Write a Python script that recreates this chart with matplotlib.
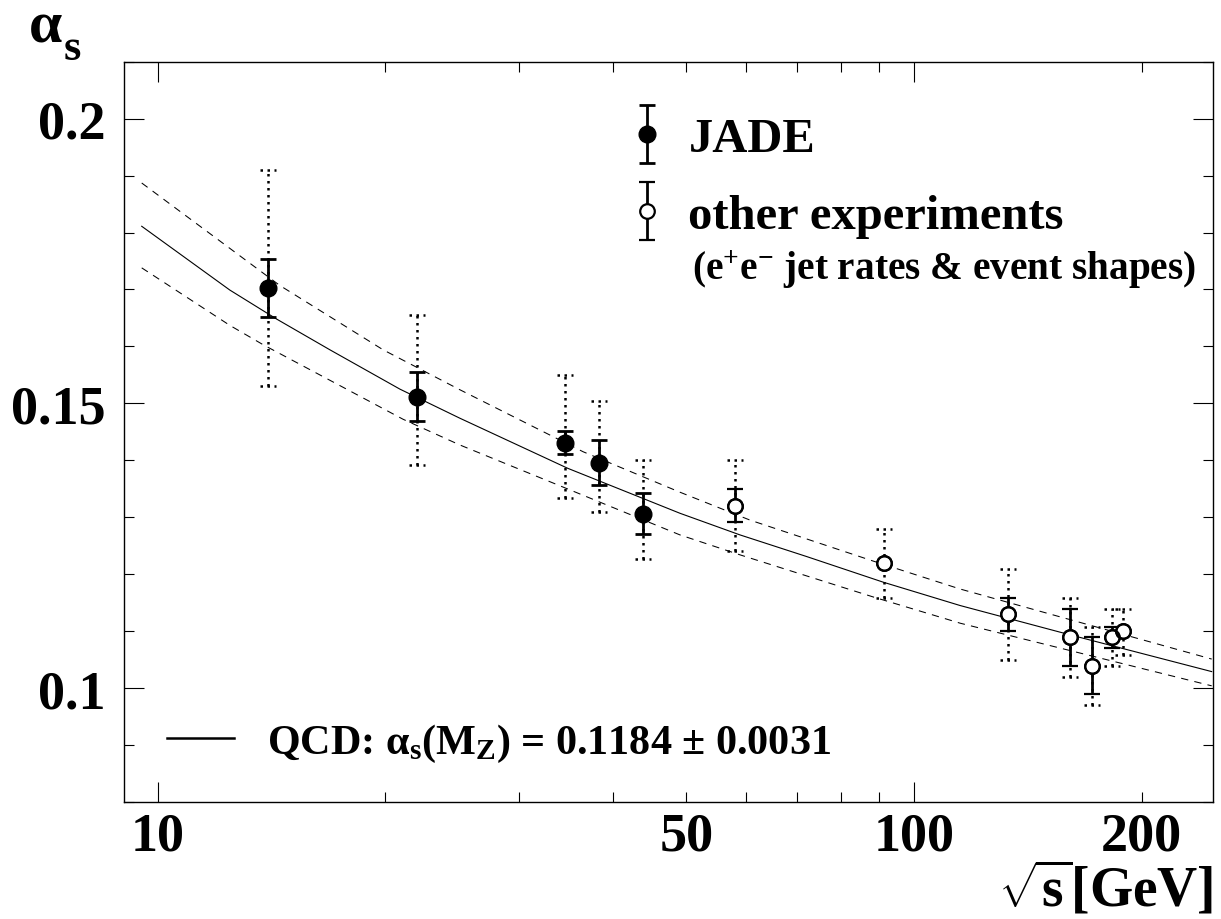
import matplotlib
matplotlib.use("Agg")

import matplotlib.pyplot as plt
import numpy as np

from matplotlib.ticker import FixedLocator, FuncFormatter, MultipleLocator
from matplotlib.lines import Line2D
from matplotlib.legend_handler import HandlerErrorbar

plt.rcParams["font.family"] = ["Liberation Serif", "DejaVu Serif"]
plt.rcParams["font.weight"] = "bold"
plt.rcParams["mathtext.fontset"] = "custom"
plt.rcParams["mathtext.rm"] = "Liberation Serif:bold"
plt.rcParams["mathtext.it"] = "Liberation Serif:italic:bold"
plt.rcParams["mathtext.bf"] = "Liberation Serif:bold"
plt.rcParams["mathtext.default"] = "rm"

# JADE points (sqrt(s) in GeV)
jade_energy  = [14.0, 22.0, 34.6, 38.3, 43.8]
jade_alpha   = [0.1702, 0.1512, 0.1430, 0.1396, 0.1306]
jade_stat_lo = [0.0050, 0.0043, 0.0019, 0.0039, 0.0036]
jade_stat_hi = [0.0052, 0.0043, 0.0021, 0.0040, 0.0036]
jade_tot_lo  = [0.0171, 0.0120, 0.0097, 0.0086, 0.0080]
jade_tot_hi  = [0.0207, 0.0144, 0.0119, 0.0108, 0.0095]

# other experiments
oth_energy  = [58.0, 91.2, 133.0, 161.0, 172.0, 183.0, 189.0]
oth_alpha   = [0.1320, 0.1220, 0.1130, 0.1090, 0.1039, 0.1089, 0.1100]
oth_stat_lo = [0.0029, 0.0, 0.0030, 0.0051, 0.0050, 0.0019, 0.0]
oth_stat_hi = [0.0029, 0.0, 0.0029, 0.0049, 0.0050, 0.0019, 0.0]
oth_tot_lo  = [0.0080, 0.0061, 0.0080, 0.0070, 0.0069, 0.0050, 0.0041]
oth_tot_hi  = [0.0081, 0.0059, 0.0079, 0.0069, 0.0069, 0.0050, 0.0039]

# QCD running
qcd_energy  = [9.52, 12.45, 14.36, 16.89, 20.90, 25.08, 34.84, 49.04, 58.88, 72.13, 91.07, 115.1, 160.4, 247.6]
qcd_central = [0.1811, 0.1699, 0.1648, 0.1594, 0.1525, 0.1474, 0.1386, 0.1307, 0.1269, 0.1231, 0.1186, 0.1145, 0.1094, 0.1029]
up_energy   = [9.52, 14.50, 19.86, 25.08, 36.52, 49.04, 60.7, 88.36, 115.1, 247.6]
qcd_upper   = [0.1887, 0.1707, 0.1594, 0.1524, 0.1415, 0.1344, 0.1295, 0.1223, 0.1174, 0.1051]
lo_energy   = [9.52, 12.45, 13.78, 21.11, 25.08, 35.09, 49.04, 58.88, 88.36, 115.1, 247.6]
qcd_lower   = [0.1738, 0.1637, 0.1603, 0.1472, 0.1427, 0.1348, 0.1269, 0.1234, 0.1160, 0.1114, 0.1004]

x_major       = [10, 100]
x_minor       = [20, 30, 40, 50, 60, 70, 80, 90, 200]
x_minor_label = [50, 200]

TICK_FS = 39
DOT = (0, (1, 1.8))

fig = plt.figure(figsize=(12.21, 9.2), dpi=100)
ax = fig.add_axes([124 / 1221, 1 - 803 / 920, 1089 / 1221, 740.3 / 920])
ax.set_xscale("log")
ax.set_xlim(9.02, 248.6)
ax.set_ylim(0.08, 0.21)

# theory band
ax.plot(qcd_energy, qcd_central, color="k", lw=0.8)
ax.plot(up_energy, qcd_upper, color="k", lw=0.75, dashes=(7, 6))
ax.plot(lo_energy, qcd_lower, color="k", lw=0.75, dashes=(7, 6))

def total_errors(energy, alpha, lo, hi):
    e = np.array(energy)
    a = np.array(alpha)
    f = 10 ** (8.0 / 756)
    ax.vlines(e, a - np.array(lo), a + np.array(hi), colors="k", lw=1.8, linestyles=DOT)
    ax.hlines(a + np.array(hi), e / f, e * f, colors="k", lw=1.8, linestyles=DOT)
    ax.hlines(a - np.array(lo), e / f, e * f, colors="k", lw=1.8, linestyles=DOT)

total_errors(jade_energy, jade_alpha, jade_tot_lo, jade_tot_hi)
total_errors(oth_energy, oth_alpha, oth_tot_lo, oth_tot_hi)

jade = ax.errorbar(jade_energy, jade_alpha, yerr=[jade_stat_lo, jade_stat_hi],
                   fmt="o", ms=12, color="k", elinewidth=2, capsize=6, capthick=2,
                   label="JADE", zorder=4)
other = ax.errorbar(oth_energy, oth_alpha, yerr=[oth_stat_lo, oth_stat_hi],
                    fmt="o", ms=10.5, mfc="white", mec="k", mew=1.6, color="k",
                    elinewidth=2, capsize=6, capthick=2,
                    label="other experiments", zorder=4)
# redraw open circle outlines so overlapping rings both show
ax.plot(oth_energy, oth_alpha, "o", ms=10.5, mfc="none", mec="k", mew=1.6, zorder=5)

# axes and ticks
ax.xaxis.set_major_locator(FixedLocator(x_major))
ax.xaxis.set_minor_locator(FixedLocator(x_minor))
ax.xaxis.set_major_formatter(FuncFormatter(lambda v, p: "%d" % v))
ax.xaxis.set_minor_formatter(FuncFormatter(lambda v, p: "%d" % v if int(round(v)) in x_minor_label else ""))
ax.yaxis.set_major_locator(MultipleLocator(0.05))
ax.yaxis.set_minor_locator(MultipleLocator(0.01))
ax.yaxis.set_major_formatter(FuncFormatter(lambda v, p: ("%.2f" % v).rstrip("0")))
ax.tick_params(which="both", direction="in", top=True, right=True, width=0.8,
               labelsize=TICK_FS)
ax.tick_params(which="major", length=14.5)
ax.tick_params(which="minor", length=7.5)
ax.tick_params(axis="y", which="both", pad=13)
ax.tick_params(axis="x", which="both", pad=7)
for s in ax.spines.values():
    s.set_linewidth(1.0)

# legends
leg = ax.legend([jade, other], ["JADE", "other experiments"],
                loc="upper left", bbox_to_anchor=(0.458, 0.925),
                frameon=False, fontsize=35, handlelength=1.0, handletextpad=0.35,
                labelspacing=0.67, borderpad=0, borderaxespad=0,
                handler_map={type(jade): HandlerErrorbar(yerr_size=0.6)})
ax.add_artist(leg)
ax.text(0.5216, 0.72, r"(e$^{+}$e$^{-}$ jet rates & event shapes)", transform=ax.transAxes,
        fontsize=28.3, ha="left", va="center")

qcd_handle = Line2D([], [], color="k", lw=1.8)
ax.legend([qcd_handle], [r"QCD: $\alpha_{s}(M_{Z})$ = 0.1184 ± 0.0031"],
          loc="center left", bbox_to_anchor=(0.0395, 0.0797),
          frameon=False, fontsize=30.3, handlelength=1.58, handletextpad=0.8,
          borderpad=0, borderaxespad=0)

fig.text(28 / 1221, 1 - 42 / 920, r"$\alpha$", fontsize=43, ha="left", va="baseline")
fig.text(63 / 1221, 1 - 60 / 920, r"$s$", fontsize=32, ha="left", va="baseline")
fig.text(1213 / 1221, 1 - 907 / 920, r"$\sqrt{s}$[GeV]", fontsize=40, ha="right", va="baseline")

fig.savefig("out.png", dpi=100)
